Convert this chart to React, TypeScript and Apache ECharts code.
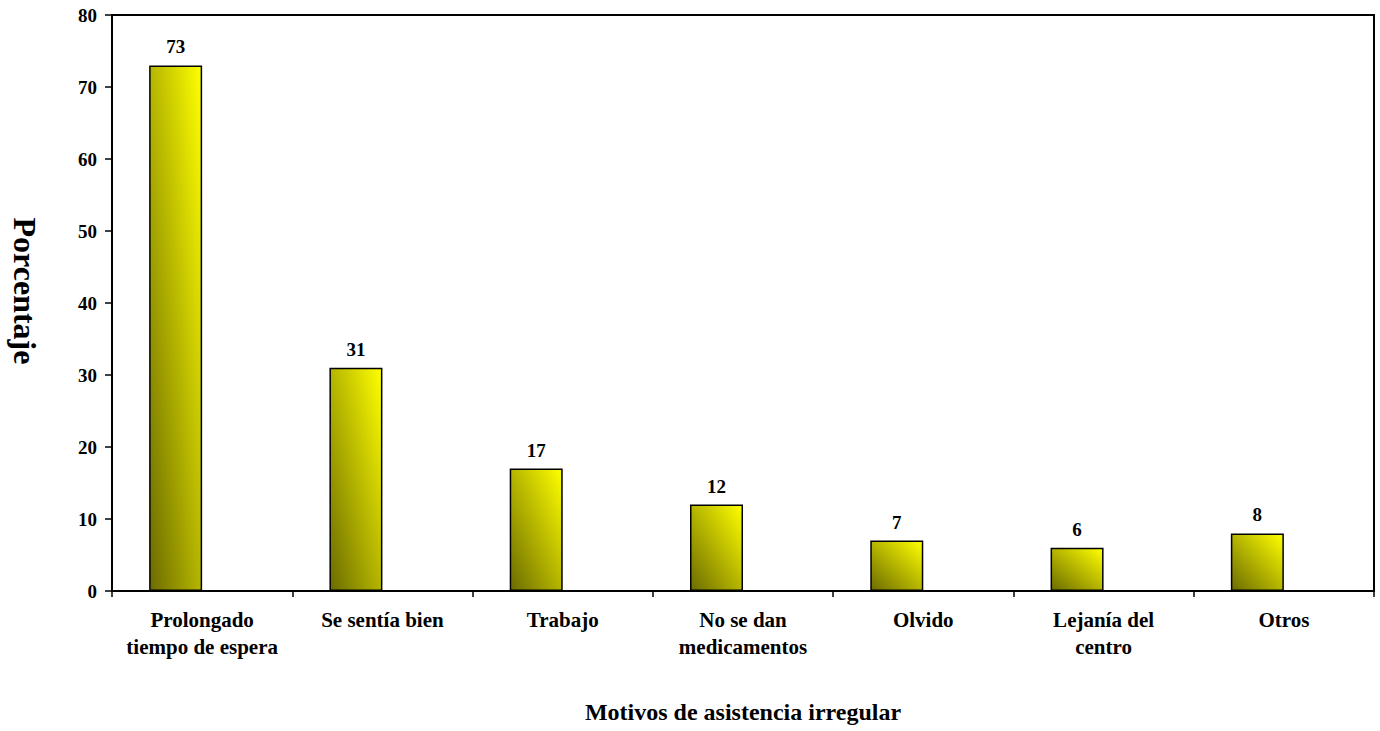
import React, { useEffect, useRef } from "react";
import * as echarts from "echarts";

const categories = [
  "Prolongado\ntiempo de espera",
  "Se sentía bien",
  "Trabajo",
  "No se dan\nmedicamentos",
  "Olvido",
  "Lejanía del\ncentro",
  "Otros",
];
const values = [73, 31, 17, 12, 7, 6, 8];
const yTicks = { min: 0, max: 80, interval: 10 };

const FONT = "'Liberation Serif', 'Times New Roman', serif";

export default function App() {
  const ref = useRef<HTMLDivElement>(null);
  useEffect(() => {
    const chart = echarts.init(ref.current!, null, { renderer: "svg" });
    chart.setOption({
      animation: false,
      backgroundColor: "#ffffff",
      grid: {
        left: 112,
        right: 6,
        top: 15,
        bottom: 140,
        show: true,
        borderColor: "#000",
        borderWidth: 2,
        backgroundColor: "transparent",
      },
      xAxis: {
        type: "category",
        data: categories,
        boundaryGap: true,
        name: "Motivos de asistencia irregular",
        nameLocation: "middle",
        nameGap: 109,
        nameTextStyle: { fontFamily: FONT, fontWeight: "bold", fontSize: 24, color: "#000" },
        axisLine: { lineStyle: { color: "#000", width: 2 } },
        axisTick: { show: true, length: 6, lineStyle: { color: "#000", width: 1.5 }, alignWithLabel: false },
        axisLabel: {
          interval: 0,
          margin: 15,
          fontFamily: FONT,
          fontWeight: "bold",
          fontSize: 21,
          color: "#000",
          lineHeight: 27,
        },
        splitLine: { show: false },
      },
      yAxis: {
        type: "value",
        min: yTicks.min,
        max: yTicks.max,
        interval: yTicks.interval,
        name: "Porcentaje",
        nameLocation: "middle",
        nameRotate: -90,
        nameGap: 71,
        nameTextStyle: {
          fontFamily: FONT,
          fontWeight: "bold",
          fontSize: 32,
          color: "#000",
          padding: [0, 24, 0, 0],
        },
        axisLine: { show: true, lineStyle: { color: "#000", width: 2 } },
        axisTick: { show: true, length: 7, lineStyle: { color: "#000", width: 1.5 } },
        axisLabel: {
          margin: 15,
          fontFamily: FONT,
          fontWeight: "bold",
          fontSize: 19,
          color: "#000",
        },
        splitLine: { show: false },
      },
      series: [
        {
          type: "bar",
          data: values,
          barWidth: 53,
          barGap: "0%",
          itemStyle: {
            color: new echarts.graphic.LinearGradient(0, 1, 1, 0, [
              { offset: 0, color: "#6b6b00" },
              { offset: 1, color: "#ffff00" },
            ]),
            borderColor: "#000",
            borderWidth: 1.5,
          },
          label: {
            show: true,
            position: "top",
            distance: 9,
            fontFamily: FONT,
            fontWeight: "bold",
            fontSize: 19,
            color: "#000",
          },
        },
        {
          type: "bar",
          data: [],
          barWidth: 53,
          barGap: "0%",
        },
      ],
    });
    return () => chart.dispose();
  }, []);
  return (
    <div
      ref={ref}
      style={{ position: "fixed", left: 0, top: 0, width: 1380, height: 731 }}
    />
  );
}
